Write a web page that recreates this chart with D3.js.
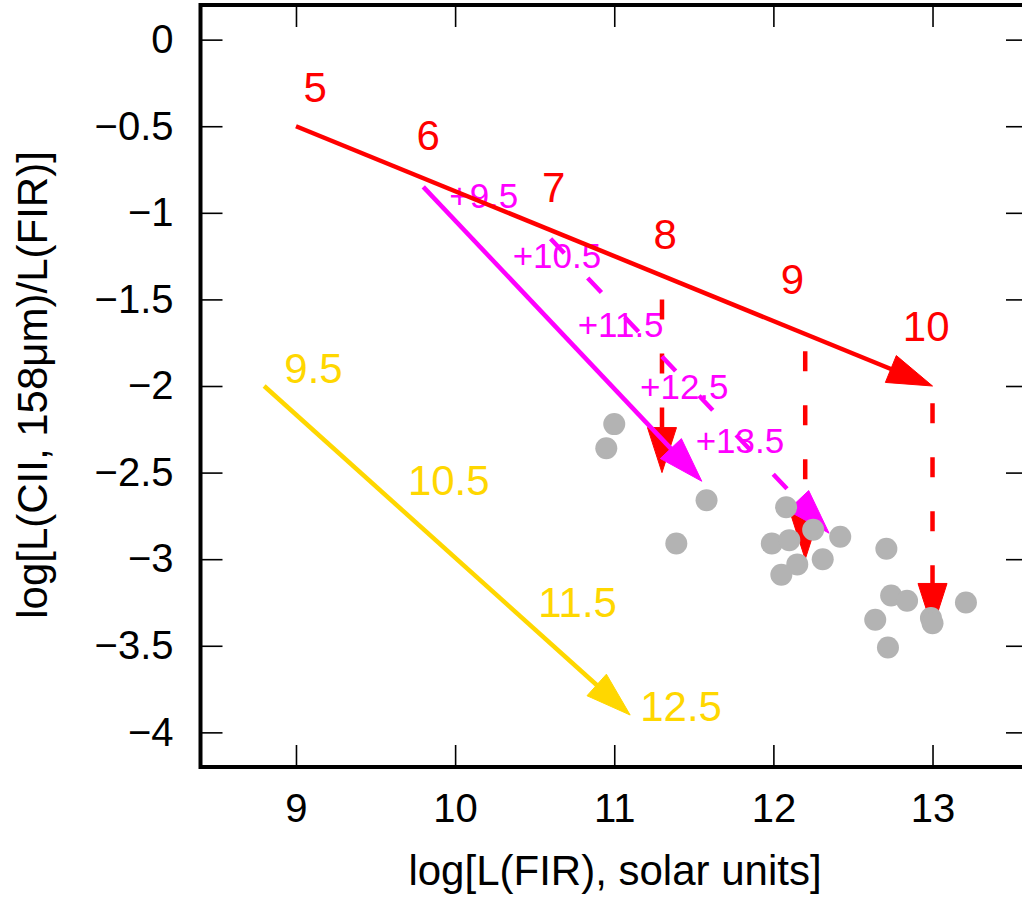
<!DOCTYPE html>
<html>
<head>
<meta charset="utf-8">
<script src="https://cdn.jsdelivr.net/npm/d3@7"></script>
<style>
  html, body { margin: 0; padding: 0; background: #ffffff; }
  svg { display: block; }
  text { font-family: "Liberation Sans", Arial, Helvetica, sans-serif; }
</style>
</head>
<body>
<div id="chart"></div>
<script>
// ---------------- data ----------------
const xTicks = [9, 10, 11, 12, 13];
const xTickLabels = ["9", "10", "11", "12", "13"];
const yTicks = [0, -0.5, -1, -1.5, -2, -2.5, -3, -3.5, -4];
const yTickLabels = ["0", "\u22120.5", "\u22121", "\u22121.5", "\u22122", "\u22122.5", "\u22123", "\u22123.5", "\u22124"];

// observed galaxies (grey points)
const obsX = [11.00, 10.95, 11.58, 11.39, 12.08, 12.25, 12.42, 11.99, 12.10, 12.31,
              12.15, 12.05, 12.71, 12.74, 12.84, 12.64, 12.99, 13.00, 13.21, 12.72];
const obsY = [-2.22, -2.36, -2.66, -2.91, -2.70, -2.83, -2.87, -2.91, -2.89, -3.00,
              -3.03, -3.09, -2.94, -3.21, -3.24, -3.35, -3.34, -3.37, -3.25, -3.51];

// red track (solid arrow)
const redLineX = [9.0, 13.0];
const redLineY = [-0.5, -2.0];
const redLabels = ["5", "6", "7", "8", "9", "10"];
const redLabelX = [9.12, 9.83, 10.62, 11.32, 12.12, 12.96];
const redLabelY = [-0.27, -0.55, -0.85, -1.12, -1.38, -1.65];

// red dashed drops
const redDropX = [11.3, 12.2, 13.0];
const redDropTop = [-1.5, -1.8, -2.1];
const redDropBottom = [-2.5, -3.0, -3.4];

// magenta solid arrow
const magLineX = [9.8, 11.55];
const magLineY = [-0.85, -2.55];
// magenta dashed arrow
const magDashX = [10.6, 12.35];
const magDashY = [-1.15, -2.85];
const magLabels = ["+9.5", "+10.5", "+11.5", "+12.5", "+13.5"];
const magLabelX = [10.18, 10.64, 11.04, 11.44, 11.79];
const magLabelY = [-0.90, -1.245, -1.646, -2.00, -2.315];

// yellow arrow
const yelLineX = [8.8, 11.1];
const yelLineY = [-2.0, -3.9];
const yelLabels = ["9.5", "10.5", "11.5", "12.5"];
const yelLabelX = [9.11, 9.96, 10.77, 11.42];
const yelLabelY = [-1.897, -2.543, -3.247, -3.847];

(function () {
// ---------------- layout ----------------
const W = 1022, H = 905;
const pLeft = 200.5, pRight = 1028, pTop = 5, pBottom = 767;
const RED = "#ff0000", MAG = "#ff00ff", YEL = "#ffd700", GREY = "#b3b3b3";

const svg = d3.select("#chart").append("svg")
  .attr("width", W).attr("height", H)
  .attr("viewBox", `0 0 ${W} ${H}`);
svg.append("rect").attr("width", W).attr("height", H).attr("fill", "#fff");

const x = d3.scaleLinear().domain([8.4, 13.6]).range([pLeft, pRight]);
const y = d3.scaleLinear().domain([-4.2, 0.2]).range([pBottom, pTop]);

// ---------------- axes ----------------
const tickLen = 22;
const fs = 40;

const axB = svg.append("g").attr("transform", `translate(0,${pBottom})`)
  .call(d3.axisBottom(x).tickValues(xTicks).tickFormat((d, i) => xTickLabels[i])
    .tickSizeInner(-tickLen).tickSizeOuter(0).tickPadding(27));
const axT = svg.append("g").attr("transform", `translate(0,${pTop})`)
  .call(d3.axisTop(x).tickValues(xTicks).tickFormat("")
    .tickSizeInner(-tickLen).tickSizeOuter(0));
const axL = svg.append("g").attr("transform", `translate(${pLeft},0)`)
  .call(d3.axisLeft(y).tickValues(yTicks).tickFormat((d, i) => yTickLabels[i])
    .tickSizeInner(-tickLen).tickSizeOuter(0).tickPadding(27));
const axR = svg.append("g").attr("transform", `translate(${pRight},0)`)
  .call(d3.axisRight(y).tickValues(yTicks).tickFormat("")
    .tickSizeInner(-tickLen).tickSizeOuter(0));

[axB, axT, axL, axR].forEach(g => {
  g.select(".domain").remove();
  g.selectAll(".tick line").attr("stroke", "#000").attr("stroke-width", 1.6);
  g.selectAll(".tick text").attr("font-size", fs).attr("fill", "#000")
    .attr("font-family", '"Liberation Sans", Arial, sans-serif');
});

// frame
svg.append("rect")
  .attr("x", pLeft).attr("y", pTop)
  .attr("width", pRight - pLeft).attr("height", pBottom - pTop)
  .attr("fill", "none").attr("stroke", "#000").attr("stroke-width", 4);

// axis titles
svg.append("text")
  .attr("x", 615).attr("y", 885)
  .attr("text-anchor", "middle").attr("font-size", 42).attr("fill", "#000")
  .text("log[L(FIR), solar units]");
svg.append("text")
  .attr("transform", "translate(47,385) rotate(-90)")
  .attr("text-anchor", "middle").attr("font-size", 42).attr("fill", "#000")
  .text("log[L(CII, 158\u03bcm)/L(FIR)]");

// ---------------- labels ----------------
function labels(txt, lx, ly, color, size) {
  svg.append("g").selectAll("text").data(txt).join("text")
    .attr("x", (d, i) => x(lx[i]))
    .attr("y", (d, i) => y(ly[i]))
    .attr("dy", "0.36em")
    .attr("text-anchor", "middle")
    .attr("font-size", size)
    .attr("fill", color)
    .text(d => d);
}
labels(magLabels, magLabelX, magLabelY, MAG, 35);

// ---------------- arrows ----------------
const headLen = 45, headHalf = 14.5, lw = 4.5;
function arrow(x1, y1, x2, y2, color, dashed) {
  const px1 = x(x1), py1 = y(y1), px2 = x(x2), py2 = y(y2);
  const dx = px2 - px1, dy = py2 - py1;
  const L = Math.hypot(dx, dy);
  const ux = dx / L, uy = dy / L;
  const bx = px2 - ux * headLen, by = py2 - uy * headLen;
  const g = svg.append("g");
  g.append("line")
    .attr("x1", px1).attr("y1", py1)
    .attr("x2", px2 - ux * (headLen - 6)).attr("y2", py2 - uy * (headLen - 6))
    .attr("stroke", color).attr("stroke-width", lw)
    .attr("stroke-dasharray", dashed ? "20,34" : null);
  const nx = -uy, ny = ux;
  g.append("path")
    .attr("d", `M${px2},${py2}L${bx + nx * headHalf},${by + ny * headHalf}L${bx - nx * headHalf},${by - ny * headHalf}Z`)
    .attr("fill", color).attr("stroke", color).attr("stroke-width", 1);
}

arrow(yelLineX[0], yelLineY[0], yelLineX[1], yelLineY[1], YEL, false);
redDropX.forEach((dx, i) => arrow(dx, redDropTop[i], dx, redDropBottom[i], RED, true));
arrow(redLineX[0], redLineY[0], redLineX[1], redLineY[1], RED, false);
arrow(magDashX[0], magDashY[0], magDashX[1], magDashY[1], MAG, true);
arrow(magLineX[0], magLineY[0], magLineX[1], magLineY[1], MAG, false);

labels(redLabels, redLabelX, redLabelY, RED, 42);
labels(yelLabels, yelLabelX, yelLabelY, YEL, 42);

// ---------------- points ----------------
svg.append("g").selectAll("circle").data(obsX).join("circle")
  .attr("cx", d => x(d))
  .attr("cy", (d, i) => y(obsY[i]))
  .attr("r", 11)
  .attr("fill", GREY);
})();
</script>
</body>
</html>
